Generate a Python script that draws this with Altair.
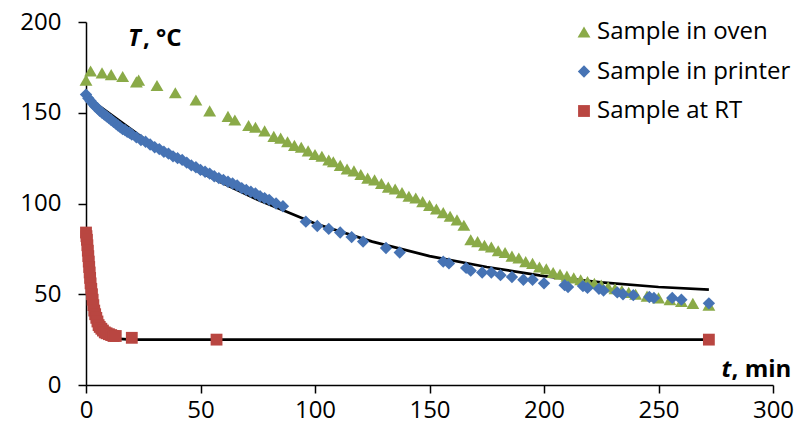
import altair as alt
import pandas as pd

# ---- data ----
oven_t = [0, 2, 7, 11, 16, 22, 23, 31, 39, 48, 54, 62, 65, 71, 74, 78, 82, 85, 88, 91,
          94, 97, 100, 103, 106, 108, 111, 114, 117, 120, 123, 126, 129, 132, 135, 138,
          141, 144, 147, 150, 153, 156, 159, 162, 165, 168, 171, 174, 177, 180, 183, 186,
          189, 192, 195, 198, 201, 204, 207, 210, 213, 216, 219, 222, 225, 228, 231, 234,
          237, 240, 245, 250, 255, 260, 265, 272]
oven_T = [168, 173, 172, 171, 170, 167, 168, 165, 161, 157, 151, 148, 146, 143, 142, 140,
          137, 136, 134, 132, 131, 129, 127, 126, 124, 123, 121, 119, 118, 116, 114, 113,
          111, 109, 108, 106, 104, 103, 101, 99, 97, 95, 93, 91, 88, 80, 79, 77, 76, 74,
          73, 71, 70, 68, 67, 65, 64, 62, 61, 60, 59, 58, 57, 56, 55, 54, 53, 52, 51, 50,
          49, 48, 47, 46, 45, 44]

printer_t = [0, 1, 2, 3, 4, 5, 6, 7, 8, 9, 10, 11, 12, 13, 14, 15, 16, 17, 18, 19, 20,
             22, 24, 26, 28, 30, 32, 34, 36, 38, 40, 42, 44, 46, 48, 50, 52, 54, 56, 58,
             60, 62, 64, 66, 68, 70, 72, 74, 76, 78, 80, 83, 86,
             96, 101, 106, 111, 116, 121, 131, 137, 156, 158.5, 166, 168, 173, 177, 181,
             186, 191, 195, 200, 209, 210.5, 217, 219, 224, 226, 232, 234.5, 239, 246,
             248, 256, 260, 272]
printer_T = [160, 158, 156.5, 155, 153.5, 152.5, 151, 150, 149, 148, 147, 146, 145, 144,
             143, 142, 141, 140.5, 139.5, 139, 138, 136.5, 135, 134, 132.5, 131, 130,
             128.5, 127.5, 126, 125, 124, 122.5, 121, 120, 118.5, 117.5, 116.5, 115, 114,
             113, 112, 111, 110, 108.5, 107.5, 106.5, 105.5, 104, 103, 102, 100, 98.5,
             90, 87.6, 86, 84, 81.5, 79, 75.5, 73, 68, 67, 64.5, 63, 62, 62, 60.5,
             59.5, 58, 58, 56, 55, 54, 54.5, 53.5, 53, 52, 51, 50, 49.5, 48.5,
             48, 48, 47, 45]

rt_t = [0, 0.2, 0.4, 0.6, 0.8, 1.0, 1.2, 1.4, 1.6, 1.8, 2.0, 2.3, 2.6, 2.9, 3.2, 3.6,
        4.0, 4.5, 5.0, 5.5, 6.0, 6.7, 7.4, 8.2, 9.0, 10, 11, 12, 13, 20, 57, 272]
rt_T = [84, 82, 80, 77, 74, 71, 68, 65, 62, 59, 56, 53, 50, 47, 44, 41, 39, 37, 35, 33,
        32, 31, 30, 29, 28.5, 28, 27.5, 27, 27, 26, 25, 25]

fit_printer_t = [0, 25, 50, 75, 100, 125, 150, 175, 200, 225, 250, 272]
fit_printer_T = [159, 136, 117, 102, 89, 79, 71, 65, 60, 56.5, 54, 52.5]
fit_rt_t = [0, 1, 2, 3, 4, 5, 6, 8, 10, 13, 20, 57, 272]
fit_rt_T = [84, 65, 52, 43, 37.5, 33.5, 31, 28, 26.5, 25.5, 25, 25, 25]

series = ["Sample in oven", "Sample in printer", "Sample at RT"]
colors = ["#8AAA48", "#4673B4", "#B94641"]
shapes = ["triangle-up", "diamond", "square"]

# ---- build tables ----
pts = pd.concat([
    pd.DataFrame({"t": oven_t, "T": oven_T, "s": series[0], "o": 0}),
    pd.DataFrame({"t": printer_t, "T": printer_T, "s": series[1], "o": 1}),
    pd.DataFrame({"t": rt_t, "T": rt_T, "s": series[2], "o": 2}),
], ignore_index=True)
fits = pd.concat([
    pd.DataFrame({"t": fit_printer_t, "T": fit_printer_T, "g": "printer"}),
    pd.DataFrame({"t": fit_rt_t, "T": fit_rt_T, "g": "rt"}),
], ignore_index=True)

FONT = "Open Sans"

xs = alt.Scale(domain=[0, 300], nice=False)
ys = alt.Scale(domain=[0, 200], nice=False)

xax = alt.Axis(values=[0, 50, 100, 150, 200, 250, 300], grid=False, title=None,
               domainColor="black", tickColor="black", domainWidth=1.5, tickWidth=1.5,
               tickSize=8, labelFontSize=24, labelFont=FONT, labelColor="black",
               labelPadding=5, labelFlush=False, labelOverlap=False)
yax = alt.Axis(values=[0, 50, 100, 150, 200], grid=False, title=None,
               domainColor="black", tickColor="black", domainWidth=1.5, tickWidth=1.5,
               tickSize=8, labelFontSize=24, labelFont=FONT, labelColor="black",
               labelPadding=17, labelFlush=False, labelOverlap=False)

lines = alt.Chart(fits).mark_line(color="black", strokeWidth=2.7).encode(
    x=alt.X("t:Q", scale=xs, axis=xax),
    y=alt.Y("T:Q", scale=ys, axis=yax),
    detail="g:N",
)

points = alt.Chart(pts).mark_point(filled=True, opacity=1, size=120).encode(
    x=alt.X("t:Q", scale=xs),
    y=alt.Y("T:Q", scale=ys),
    color=alt.Color("s:N", scale=alt.Scale(domain=series, range=colors),
                    legend=alt.Legend(title=None, orient="none", legendX=486, legendY=-2,
                                      labelFontSize=24, labelFont=FONT, labelColor="black",
                                      labelLimit=400, symbolSize=130, rowPadding=15.5,
                                      labelOffset=1, padding=0, symbolStrokeWidth=0)),
    shape=alt.Shape("s:N", scale=alt.Scale(domain=series, range=shapes), legend=None),
    size=alt.Size("s:N", scale=alt.Scale(domain=series, range=[165, 140, 121]), legend=None),
    order="o:Q",
)

lab_T = pd.DataFrame({"t": [18.3], "T": [187]})
tT = alt.Chart(lab_T).mark_text(text="T", fontStyle="italic", fontWeight="bold",
                                font=FONT, fontSize=24, align="left",
                                baseline="alphabetic", color="black").encode(
    x=alt.X("t:Q", scale=xs), y=alt.Y("T:Q", scale=ys))
tC = alt.Chart(lab_T).mark_text(text=", °C", fontWeight="bold", font=FONT, fontSize=24,
                                align="left", baseline="alphabetic", dx=15,
                                color="black").encode(
    x=alt.X("t:Q", scale=xs), y=alt.Y("T:Q", scale=ys))

lab_t = pd.DataFrame({"t": [308], "T": [4.4]})
tt = alt.Chart(lab_t).mark_text(text="t", fontStyle="italic", fontWeight="bold",
                                font=FONT, fontSize=24, align="right",
                                baseline="alphabetic", dx=-60, color="black").encode(
    x=alt.X("t:Q", scale=xs), y=alt.Y("T:Q", scale=ys))
tm = alt.Chart(lab_t).mark_text(text=", min", fontWeight="bold", font=FONT, fontSize=24,
                                align="right", baseline="alphabetic",
                                color="black").encode(
    x=alt.X("t:Q", scale=xs), y=alt.Y("T:Q", scale=ys))

chart = alt.layer(lines, points, tT, tC, tt, tm).properties(
    width=687, height=363,
    autosize=alt.AutoSizeParams(type="none"),
    padding={"left": 86, "top": 22, "right": 27, "bottom": 52},
    background="white",
).configure_view(stroke=None)

chart.save("out.html", embed_options={"renderer": "svg", "actions": False})
